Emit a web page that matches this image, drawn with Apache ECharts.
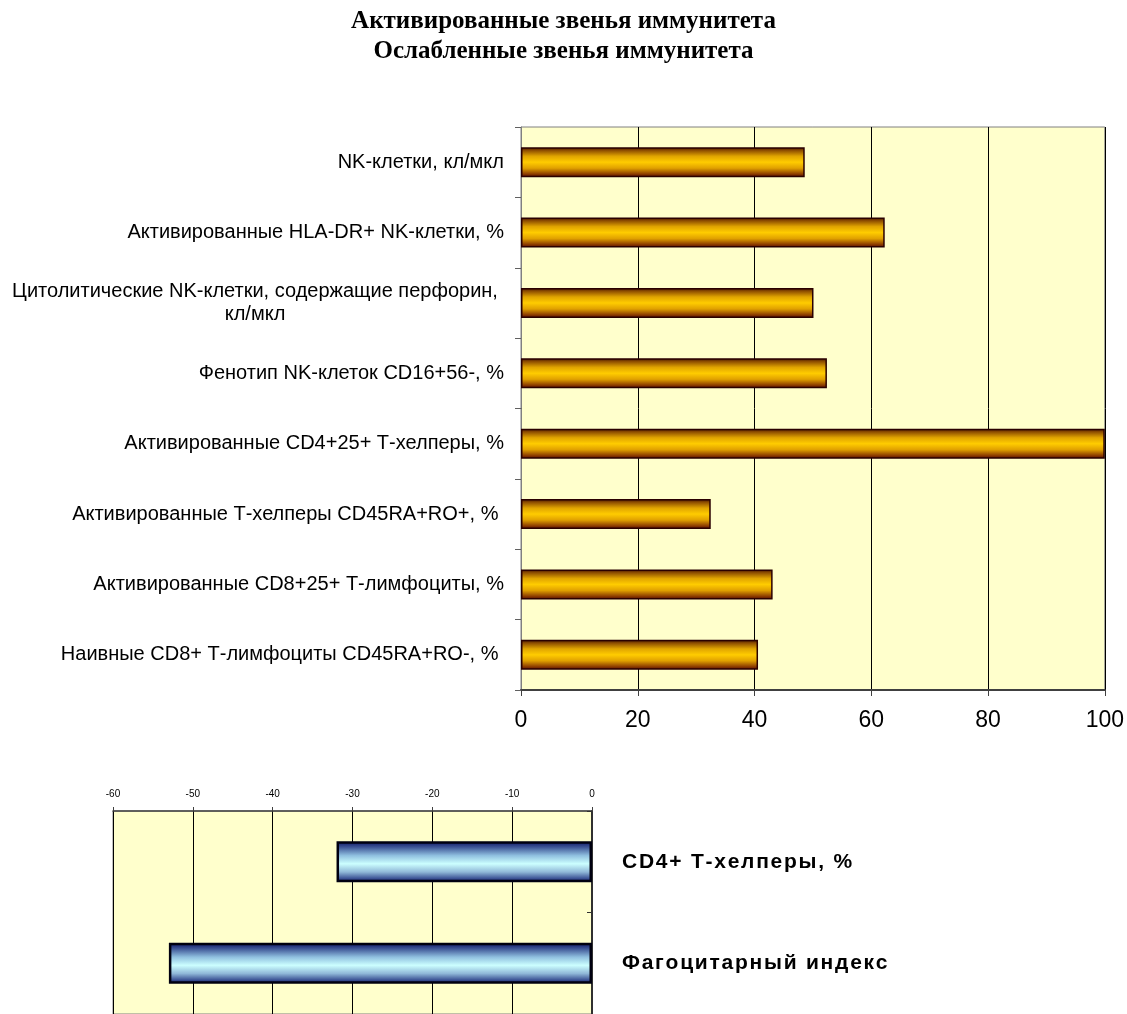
<!DOCTYPE html>
<html><head><meta charset="utf-8">
<script src="https://cdn.jsdelivr.net/npm/echarts@6/dist/echarts.min.js"></script>
<style>html,body{margin:0;padding:0;background:#fff}#c{width:1127px;height:1014px}</style>
</head><body><div id="c"></div>
<script>
const activeCategories = [
  'NK-клетки, кл/мкл',
  'Активированные HLA-DR+ NK-клетки, %',
  'Цитолитические NK-клетки, содержащие перфорин,\nкл/мкл',
  'Фенотип NK-клеток CD16+56-, %',
  'Активированные CD4+25+ Т-хелперы, %',
  'Активированные Т-хелперы CD45RA+RO+, % ',
  'Активированные CD8+25+ Т-лимфоциты, %',
  'Наивные CD8+ Т-лимфоциты CD45RA+RO-, % '
];
const activeValues = [48.6, 62.3, 50.1, 52.4, 100, 32.5, 43.1, 40.6];
const activeTicks = [0, 20, 40, 60, 80, 100];

const weakCategories = ['CD4+ Т-хелперы, %', 'Фагоцитарный индекс'];
const weakValues = [-32, -53];
const weakTicks = [-60, -50, -40, -30, -20, -10, 0];

const titleLines = ['Активированные звенья иммунитета', 'Ослабленные звенья иммунитета'];

const chart = echarts.init(document.getElementById('c'), null, {renderer: 'canvas'});

const goldGrad = new echarts.graphic.LinearGradient(0, 0, 0, 1, [
  {offset: 0, color: '#3a0e00'},
  {offset: 0.1, color: '#8a4a00'},
  {offset: 0.3, color: '#e0a400'},
  {offset: 0.5, color: '#ffcc00'},
  {offset: 0.7, color: '#e0a000'},
  {offset: 0.9, color: '#8a3a00'},
  {offset: 1, color: '#500800'}
]);
const blueGrad = new echarts.graphic.LinearGradient(0, 0, 0, 1, [
  {offset: 0, color: '#0a1060'},
  {offset: 0.15, color: '#405898'},
  {offset: 0.35, color: '#90c0e0'},
  {offset: 0.55, color: '#ccffff'},
  {offset: 0.75, color: '#90b8d8'},
  {offset: 0.9, color: '#405898'},
  {offset: 1, color: '#0a1060'}
]);

const font = 'Liberation Sans, Arial, sans-serif';

function spaced(s) {
  return s.split('').join('\u200A');
}

chart.setOption({
  animation: false,
  backgroundColor: '#ffffff',
  title: {
    text: titleLines.join('\n'),
    left: 'center',
    top: 2,
    textStyle: {fontFamily: 'Liberation Serif, Times New Roman, serif', fontWeight: 'bold', fontSize: 25, lineHeight: 30, color: '#000'}
  },
  grid: [
    {left: 521, top: 127, width: 586, height: 563, show: true, backgroundColor: '#ffffcc', borderColor: '#808080', borderWidth: 1, containLabel: false},
    {left: 113, top: 811, width: 479, height: 206, show: true, backgroundColor: '#ffffcc', borderColor: '#808080', borderWidth: 1, containLabel: false}
  ],
  xAxis: [
    {
      gridIndex: 0, type: 'value', min: activeTicks[0], max: activeTicks[activeTicks.length - 1], interval: 20,
      position: 'bottom',
      axisLine: {show: true, lineStyle: {color: '#404040', width: 2}},
      axisTick: {show: true, length: 6, lineStyle: {color: '#404040'}},
      axisLabel: {fontFamily: font, fontSize: 23, color: '#000', margin: 19},
      splitLine: {show: true, lineStyle: {color: '#000', width: 1}}
    },
    {
      gridIndex: 1, type: 'value', min: weakTicks[0], max: weakTicks[weakTicks.length - 1], interval: 10,
      position: 'top',
      axisLine: {show: true, onZero: false, lineStyle: {color: '#404040', width: 1.5}},
      axisTick: {show: true, length: 4, lineStyle: {color: '#404040'}},
      axisLabel: {fontFamily: font, fontSize: 10, color: '#000', margin: 12},
      splitLine: {show: true, lineStyle: {color: '#000', width: 1}}
    }
  ],
  yAxis: [
    {
      gridIndex: 0, type: 'category', data: activeCategories, inverse: true,
      axisLine: {show: true, lineStyle: {color: '#808080'}},
      axisTick: {show: true, length: 6, lineStyle: {color: '#606060'}},
      axisLabel: {
        fontFamily: font, fontSize: 20, color: '#000', margin: 17, align: 'right',
        formatter: function (v) {
          if (v.indexOf('\n') >= 0) {
            return v.split('\n').map(function (s) { return '{c|' + s + '}'; }).join('\n');
          }
          return v;
        },
        rich: {c: {fontFamily: font, fontSize: 20, color: '#000', width: 498, align: 'center', lineHeight: 23}}
      }
    },
    {
      gridIndex: 1, type: 'category', data: weakCategories, inverse: true, position: 'right',
      axisLine: {show: true, onZero: false, lineStyle: {color: '#303030', width: 2}},
      axisTick: {show: true, inside: true, length: 5, lineStyle: {color: '#303030'}},
      axisLabel: {
        fontFamily: font, fontSize: 21, fontWeight: 'bold', color: '#000', margin: 30, align: 'left',
        formatter: function (v) { return spaced(v); }
      }
    }
  ],
  series: [
    {
      type: 'bar', xAxisIndex: 0, yAxisIndex: 0, data: activeValues, barWidth: 30,
      itemStyle: {color: goldGrad, borderColor: '#2a0000', borderWidth: 1.5}
    },
    {
      type: 'bar', xAxisIndex: 1, yAxisIndex: 1, data: weakValues, barWidth: 41,
      itemStyle: {color: blueGrad, borderColor: '#000010', borderWidth: 2.5}
    }
  ]
});
</script>
</body></html>
